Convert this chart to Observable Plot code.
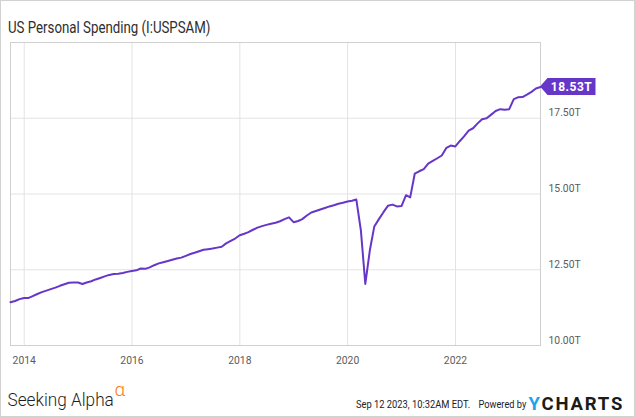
<!DOCTYPE html>
<html>
<head>
<meta charset="utf-8">
<script src="https://cdn.jsdelivr.net/npm/d3@7"></script>
<script src="https://cdn.jsdelivr.net/npm/@observablehq/plot@0.6"></script>
<style>
  html, body { margin: 0; padding: 0; background: #fff; }
  #wrap { position: relative; width: 635px; height: 417px; overflow: hidden; }
  #wrap svg { position: absolute; left: 0; top: 0; }
  #border { position: absolute; left: 0; top: 0; width: 633px; height: 415px; border: 1px solid #d2d2d2; pointer-events: none; }
  svg text { font-family: Roboto, "Noto Sans", "Liberation Sans", sans-serif; }
</style>
</head>
<body>
<div id="wrap"><div id="border"></div></div>
<script>
// ---- data ----
const title = "US Personal Spending (I:USPSAM)";
const firstMonth = [2013, 9];           // Sep 2013 (month-end values)
const spending = [                       // trillions USD, monthly Sep 2013 .. Jul 2023
  11.43,11.47,11.53,11.57,11.57,11.63,11.70,11.76,11.81,11.86,11.91,11.97,
  12.02,12.07,12.08,12.08,12.03,12.08,12.12,12.18,12.23,12.28,12.33,12.36,
  12.37,12.39,12.43,12.46,12.48,12.54,12.53,12.58,12.65,12.71,12.75,12.79,
  12.83,12.87,12.90,12.96,13.02,13.06,13.11,13.16,13.18,13.20,13.23,13.26,
  13.37,13.45,13.53,13.64,13.69,13.74,13.82,13.89,13.94,13.98,14.02,14.05,
  14.10,14.17,14.23,14.07,14.11,14.17,14.29,14.39,14.44,14.49,14.54,14.59,
  14.63,14.68,14.71,14.75,14.78,14.82,13.80,12.03,13.15,13.93,14.17,14.40,
  14.61,14.65,14.59,14.60,14.96,14.89,15.67,15.75,15.82,16.00,16.09,16.18,
  16.27,16.52,16.60,16.57,16.75,16.90,17.09,17.17,17.33,17.47,17.50,17.62,
  17.74,17.80,17.78,17.80,18.13,18.19,18.20,18.28,18.37,18.48,18.53
];
const tickYears = [2014, 2016, 2018, 2020, 2022];
const yTicks = [10, 12.5, 15, 17.5];
const yDomain = [10, 20];
const footerLogo = "Seeking Alpha";
const footerAlpha = "α";
const footerDate = "Sep 12 2023, 10:32AM EDT.";
const footerPowered = "Powered by";
const footerBrandY = "Y";
const footerBrandRest = "CHARTS";

// ---- build table ----
const start = new Date(Date.UTC(firstMonth[0], firstMonth[1], 1));
const data = spending.map((v, i) => ({
  date: d3.utcDay.offset(d3.utcMonth.offset(start, i), -1),
  value: v
}));
const xTicks = tickYears.map(y => new Date(Date.UTC(y, 0, 1)));
const purple = "#6636c9";
const last = data[data.length - 1];

const plot = Plot.plot({
  width: 635,
  height: 417,
  marginTop: 42,
  marginBottom: 72,
  marginLeft: 10,
  marginRight: 95,
  style: { fontFamily: "Roboto, sans-serif", fontSize: "11.5px", background: "transparent", overflow: "visible" },
  x: { type: "utc", domain: [data[0].date, last.date], label: null },
  y: { domain: yDomain, label: null },
  marks: [
    Plot.gridX(xTicks, { stroke: "#e3e3e3", strokeOpacity: 1 }),
    Plot.gridY(yTicks, { stroke: "#e3e3e3", strokeOpacity: 1 }),
    Plot.frame({ stroke: "#d0d0d0" }),
    Plot.axisX(xTicks, { tickSize: 0, tickPadding: 10, tickFormat: d3.utcFormat("%Y"), color: "#5c5c5c", label: null }),
    Plot.axisY(yTicks, { anchor: "right", tickSize: 0, tickPadding: 8, textAnchor: "start", dy: -5.5,
      tickFormat: d => d.toFixed(2) + "T", color: "#5c5c5c", label: null }),
    Plot.line(data, { x: "date", y: "value", stroke: purple, strokeWidth: 2, strokeLinejoin: "round" })
  ]
});

document.getElementById("wrap").insertBefore(plot, document.getElementById("border"));
const svg = d3.select(plot);

// condense text horizontally (reference uses a narrow face)
function squeeze(el, s) {
  const t = d3.select(el);
  let tr = t.attr("transform");
  if (tr == null) {
    const x = parseFloat(t.attr("x")) || 0;
    t.attr("x", null);
    tr = `translate(${x},0)`;
  }
  t.attr("transform", `${tr} scale(${s},1)`);
}
svg.selectAll("text").each(function () { squeeze(this, 0.9); });

// last-value tag, positioned through the plot's scales
const X = plot.scale("x").apply(last.date);
const Y = plot.scale("y").apply(last.value);
const tag = svg.append("g");
tag.append("path")
  .attr("d", `M${X},${Y} L${X + 7.5},${Y - 8.5} H${X + 55.5} V${Y + 8.5} H${X + 7.5} Z`)
  .attr("fill", purple);
tag.append("text")
  .attr("x", X + 31.5).attr("y", Y).attr("dy", "0.36em")
  .attr("text-anchor", "middle")
  .attr("fill", "#fff").attr("font-weight", 700).attr("font-size", 12).attr("letter-spacing", 0.5)
  .text(last.value.toFixed(2) + "T");

// title
svg.append("text")
  .attr("text-anchor", "start")
  .attr("transform", "translate(8,32.5) scale(0.83,1)")
  .attr("fill", "#2e2e2e").attr("font-size", 16)
  .text(title);

// footer
const foot = svg.append("g").attr("text-anchor", "start");
foot.append("text")
  .attr("transform", "translate(7.5,405.5) scale(0.93,1)")
  .attr("fill", "#1e1e1e").attr("font-size", 18.5).attr("font-weight", 300)
  .text(footerLogo);
foot.append("text")
  .attr("transform", "translate(114.5,395.5)")
  .attr("fill", "#ff7a12").attr("font-size", 19).attr("font-weight", 300)
  .text(footerAlpha);
foot.append("text")
  .attr("transform", "translate(356,408.3) scale(0.85,1)")
  .attr("fill", "#222").attr("font-size", 11)
  .text(footerDate);
foot.append("text")
  .attr("transform", "translate(478.5,408.3) scale(0.84,1)")
  .attr("fill", "#222").attr("font-size", 11)
  .text(footerPowered);
const brand = foot.append("text")
  .attr("transform", "translate(528.5,410)")
  .attr("font-size", 18.5).attr("font-weight", 700).attr("letter-spacing", 1.8);
brand.append("tspan").attr("fill", "#1fa3e8").text(footerBrandY);
brand.append("tspan").attr("fill", "#1b1b1b").text(footerBrandRest);
</script>
</body>
</html>
